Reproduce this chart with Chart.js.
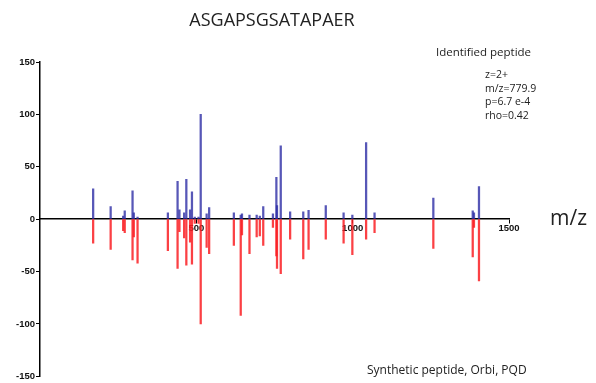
<!DOCTYPE html>
<html>
<head>
<meta charset="utf-8">
<script src="https://cdn.jsdelivr.net/npm/chart.js@4"></script>
<style>
  html, body { margin: 0; padding: 0; background: #fff; }
  #wrap { width: 596px; height: 383px; }
</style>
</head>
<body>
<div id="wrap"><canvas id="myChart" width="596" height="383"></canvas></div>
<script>
// peak positions (m/z) and intensities
var mzValues = [170, 226, 266, 271, 296, 300, 312, 409, 440, 446, 461, 468, 480, 486, 495, 507, 514, 533, 541,
                620, 642, 646, 670, 693, 703, 714, 745, 756, 758, 770, 800, 842, 859, 914, 971, 999, 1043, 1070,
                1258, 1384, 1388, 1404];
// identified peptide (up, blue)
var identified = [29, 12, 3, 8, 27, 6, 2, 6, 36, 9, 6, 38, 9, 26, 2, 2, 100, 5, 11,
                  6, 4, 5, 4, 4, 3, 12, 5, 40, 13, 70, 7, 7, 8.5, 13, 6, 4, 73, 6,
                  20, 8, 6, 31];
// synthetic peptide (down, red)
var synthetic = [-23, -29, -11, -13, -39, -17, -42, -30, -47, -12, -18, -44, -22, -43, -4, -4, -100, -27, -33,
                 -25, -92, -15, -33, -17, -16, -25, -8, -35, -47, -52, -19, -38, -29, -19, -23, -34, -19, -13,
                 -28, -36, -8, -59];
var xTicks = [500, 1000, 1500];
var yTicks = [-150, -100, -50, 0, 50, 100, 150];

var infoLines = ['z=2+', 'm/z=779.9', 'p=6.7 e-4', 'rho=0.42'];

function toPoints(values) {
  var pts = [];
  for (var i = 0; i < mzValues.length; i++) {
    pts.push({x: mzValues[i], y: values[i]});
  }
  return pts;
}

// text labels drawn on top of the chart
var textPlugin = {
  id: 'texts',
  afterDraw: function (chart) {
    var ctx = chart.ctx;
    ctx.save();
    ctx.fillStyle = '#222';
    ctx.textBaseline = 'alphabetic';

    ctx.font = '18px "Open Sans"';
    ctx.textAlign = 'center';
    ctx.fillText('ASGAPSGSATAPAER', 272, 26);

    ctx.font = '11.5px "Open Sans"';
    ctx.textAlign = 'left';
    ctx.fillText('Identified peptide', 436, 56);

    ctx.font = '10.5px "Open Sans"';
    for (var i = 0; i < infoLines.length; i++) {
      ctx.fillText(infoLines[i], 485, 78 + i * 13.6);
    }

    ctx.font = '21px "Open Sans"';
    ctx.fillText('m/z', 550, 225);

    ctx.font = '12px "Open Sans"';
    ctx.fillText('Synthetic peptide, Orbi, PQD', 367, 374);
    ctx.restore();
  }
};

var ctx = document.getElementById('myChart').getContext('2d');
var config = {
  type: 'bar',
  data: {
    datasets: [{
      label: 'Identified peptide',
      data: toPoints(identified),
      backgroundColor: 'rgba(45,45,165,0.8)',
      barThickness: 1.6,
      grouped: false
    }, {
      label: 'Synthetic peptide',
      data: toPoints(synthetic),
      backgroundColor: 'rgba(250,30,35,0.85)',
      barThickness: 1.6,
      grouped: false
    }]
  },
  options: {
    responsive: false,
    animation: false,
    layout: { padding: { left: 0, right: 87, top: 62, bottom: 6 } },
    plugins: {
      legend: { display: false },
      tooltip: { enabled: false }
    },
    scales: {
      x: {
        type: 'linear',
        position: { y: 0 },
        min: 0,
        max: 1500,
        offset: false,
        afterBuildTicks: function (scale) {
          scale.ticks = xTicks.map(function (v) { return {value: v}; });
        },
        grid: { display: true, drawOnChartArea: false, drawTicks: true, tickLength: 4, color: '#000', offset: false },
        border: { display: true, color: '#000', width: 1.5 },
        ticks: {
          color: '#111', font: { family: 'Liberation Sans', size: 9.5, weight: 'bold' }, padding: 0, maxRotation: 0,
          callback: function (v) { return String(v); }
        }
      },
      y: {
        min: -150,
        max: 150,
        afterBuildTicks: function (scale) {
          scale.ticks = yTicks.map(function (v) { return {value: v}; });
        },
        afterFit: function (scale) { scale.width = 40; },
        grid: { display: true, drawOnChartArea: false, drawTicks: true, tickLength: 4, color: '#000' },
        border: { display: true, color: '#000', width: 1.5 },
        ticks: {
          color: '#111', font: { family: 'Liberation Sans', size: 9.5, weight: 'bold' }, padding: 1,
          callback: function (v) { return String(v); }
        }
      }
    }
  },
  plugins: [textPlugin]
};
window.myBars = new Chart(ctx, config);
</script>
</body>
</html>
